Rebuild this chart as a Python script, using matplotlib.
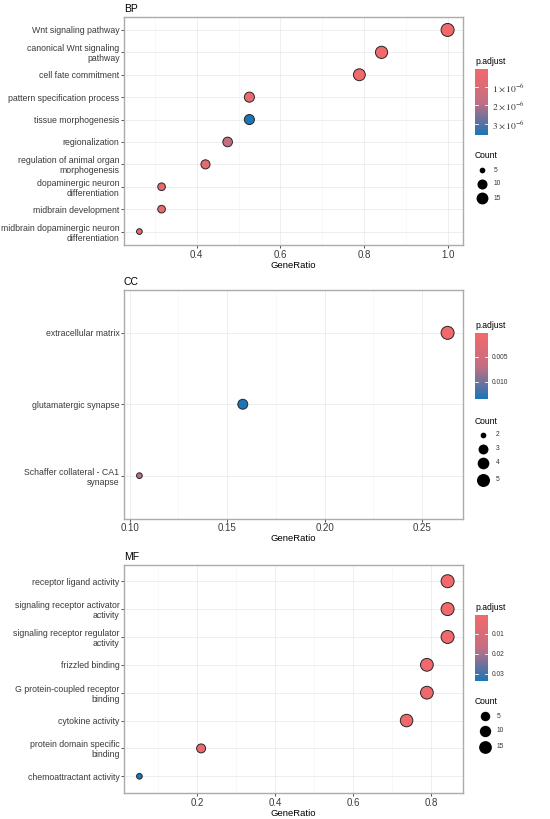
import numpy as np
import matplotlib
matplotlib.use('Agg')
import matplotlib.pyplot as plt
from matplotlib.colors import LinearSegmentedColormap, Normalize
from matplotlib.cm import ScalarMappable

plt.rcParams['font.family'] = ['Liberation Sans', 'DejaVu Sans']
plt.rcParams['mathtext.fontset'] = 'stix'

# ---- data ----
BP_TERMS = ["Wnt signaling pathway", "canonical Wnt signaling\npathway",
            "cell fate commitment", "pattern specification process",
            "tissue morphogenesis", "regionalization",
            "regulation of animal organ\nmorphogenesis",
            "dopaminergic neuron\ndifferentiation", "midbrain development",
            "midbrain dopaminergic neuron\ndifferentiation"]
BP_RATIO = [1.0, 0.842, 0.789, 0.526, 0.526, 0.474, 0.421, 0.316, 0.316, 0.263]
BP_COUNT = [19, 16, 15, 10, 10, 9, 8, 6, 6, 5]
BP_PADJ = [0.03e-6, 0.1e-6, 0.12e-6, 0.35e-6, 3.6e-6, 1.7e-6, 0.5e-6, 0.45e-6, 0.45e-6, 0.8e-6]
BP_CBAR_TICKS = [1e-6, 2e-6, 3e-6]
BP_CBAR_LABELS = [r'$1\times10^{-6}$', r'$2\times10^{-6}$', r'$3\times10^{-6}$']
BP_SIZE_BREAKS = [5, 10, 15]
BP_XTICKS = [0.4, 0.6, 0.8, 1.0]

CC_TERMS = ["extracellular matrix", "glutamatergic synapse",
            "Schaffer collateral - CA1\nsynapse"]
CC_RATIO = [0.263, 0.158, 0.105]
CC_COUNT = [5, 3, 2]
CC_PADJ = [0.0003, 0.0135, 0.0075]
CC_CBAR_TICKS = [0.005, 0.010]
CC_CBAR_LABELS = ['0.005', '0.010']
CC_SIZE_BREAKS = [2, 3, 4, 5]
CC_XTICKS = [0.10, 0.15, 0.20, 0.25]

MF_TERMS = ["receptor ligand activity", "signaling receptor activator\nactivity",
            "signaling receptor regulator\nactivity", "frizzled binding",
            "G protein-coupled receptor\nbinding", "cytokine activity",
            "protein domain specific\nbinding", "chemoattractant activity"]
MF_RATIO = [0.842, 0.842, 0.842, 0.789, 0.789, 0.737, 0.211, 0.053]
MF_COUNT = [16, 16, 16, 15, 15, 14, 4, 1]
MF_PADJ = [0.0005, 0.0008, 0.001, 0.001, 0.0015, 0.0015, 0.003, 0.0335]
MF_CBAR_TICKS = [0.01, 0.02, 0.03]
MF_CBAR_LABELS = ['0.01', '0.02', '0.03']
MF_SIZE_BREAKS = [5, 10, 15]
MF_XTICKS = [0.2, 0.4, 0.6, 0.8]

# ---- style ----
W, H = 550, 819
CMAP = LinearSegmentedColormap.from_list('padj', ['#F2696B', '#C46E82', '#1B75B6'])
GRID_MAJOR = '#EBEBEB'
GRID_MINOR = '#F4F4F4'
BORDER = '#ABABAB'
TICK_COLOR = '#3A3A3A'

fig = plt.figure(figsize=(W / 100, H / 100), dpi=100)
overlay = fig.add_axes([0, 0, 1, 1])
overlay.set_xlim(0, W)
overlay.set_ylim(H, 0)
overlay.axis('off')


def px_rect(left, top, right, bottom):
    return [left / W, 1 - bottom / H, (right - left) / W, (bottom - top) / H]


def marker_area(count, cmin, cmax):
    """ggplot-like area scale: diameter in px -> scatter size in pt^2"""
    d = 5.7 + np.sqrt((count - cmin) / (cmax - cmin)) * 7.3
    return (d * 0.72) ** 2


def draw_panel(title, terms, ratios, counts, padj, top, xticks, fmt,
               cb_ticks, cb_labels, cb_size, cb_top, breaks, leg):
    ax = fig.add_axes(px_rect(124, top, 463, top + 228.5))
    n = len(terms)
    y = np.arange(n, 0, -1)
    cmin, cmax = min(counts), max(counts)
    norm = Normalize(min(padj), max(padj))
    sizes = [marker_area(c, cmin, cmax) for c in counts]
    ax.scatter(ratios, y, s=sizes, c=padj, cmap=CMAP, norm=norm,
               edgecolors='#262626', linewidths=0.7, zorder=3)

    ax.set_xticks(xticks)
    ax.set_xticklabels([fmt.format(v) for v in xticks])
    step = xticks[1] - xticks[0]
    minor = [xticks[0] - step / 2] + [v + step / 2 for v in xticks]
    ax.set_xticks(minor, minor=True)
    ax.set_yticks(y)
    ax.set_yticklabels(terms, linespacing=1.15)

    # limits after ticks so the minor ticks do not widen the view
    pad = 0.05 * (max(ratios) - min(ratios))
    ax.set_xlim(min(ratios) - pad, max(ratios) + pad)
    ax.set_ylim(0.4, n + 0.6)

    ax.grid(True, which='major', color=GRID_MAJOR, linewidth=0.6, zorder=0)
    ax.grid(True, which='minor', axis='x', color=GRID_MINOR, linewidth=0.4, zorder=0)
    ax.set_axisbelow(True)
    for sp in ax.spines.values():
        sp.set_color(BORDER)
        sp.set_linewidth(1.0)
    ax.tick_params(axis='both', which='major', length=2, width=0.6,
                   color='#333333', labelcolor=TICK_COLOR, labelsize=6.3, pad=1.2)
    ax.tick_params(axis='x', labelsize=7, pad=1.5)
    ax.tick_params(axis='x', which='minor', length=0)

    ax.set_title(title, loc='left', fontsize=7.5, pad=3.5)
    ax.set_xlabel('GeneRatio', fontsize=6.8, labelpad=0.5)

    # colorbar (reversed: small p.adjust on top)
    cax = fig.add_axes(px_rect(475, cb_top, 488, cb_top + 66))
    cb = fig.colorbar(ScalarMappable(norm=norm, cmap=CMAP), cax=cax)
    cb.outline.set_visible(False)
    cax.invert_yaxis()
    cb.set_ticks(cb_ticks)
    cb.set_ticklabels(cb_labels)
    cax.tick_params(length=0, labelsize=cb_size, pad=3, labelcolor='#333333')
    x0, x1 = cax.get_xlim()
    for t in cb_ticks:
        cax.plot([x0, x0 + 0.2 * (x1 - x0)], [t, t], color='white', lw=0.6)
        cax.plot([x1 - 0.2 * (x1 - x0), x1], [t, t], color='white', lw=0.6)
    cax.set_xlim(x0, x1)
    overlay.text(475, cb_top - 8, 'p.adjust', fontsize=6.2, va='center', ha='left')

    # size legend
    lx, ly_title, ly, tx = leg
    overlay.text(475, ly_title, 'Count', fontsize=6.2, va='center', ha='left')
    for b, yy in zip(breaks, ly):
        overlay.scatter([lx], [yy], s=marker_area(b, cmin, cmax), color='black', lw=0)
        overlay.text(tx, yy, str(b), fontsize=4.8, va='center', ha='left', color='#333333')


draw_panel('BP', BP_TERMS, BP_RATIO, BP_COUNT, BP_PADJ, 16.5, BP_XTICKS, '{:.1f}',
           BP_CBAR_TICKS, BP_CBAR_LABELS, 6.8, 69, BP_SIZE_BREAKS,
           (482, 156, [170, 183.5, 198], 494))
draw_panel('CC', CC_TERMS, CC_RATIO, CC_COUNT, CC_PADJ, 290, CC_XTICKS, '{:.2f}',
           CC_CBAR_TICKS, CC_CBAR_LABELS, 4.8, 333, CC_SIZE_BREAKS,
           (483, 421, [435, 448.5, 462.5, 479.5], 496))
draw_panel('MF', MF_TERMS, MF_RATIO, MF_COUNT, MF_PADJ, 564.5, MF_XTICKS, '{:.1f}',
           MF_CBAR_TICKS, MF_CBAR_LABELS, 4.8, 615, MF_SIZE_BREAKS,
           (485, 702, [716, 730.5, 746.5], 497))

fig.savefig('out.png', dpi=100, facecolor='white')
plt.close(fig)
